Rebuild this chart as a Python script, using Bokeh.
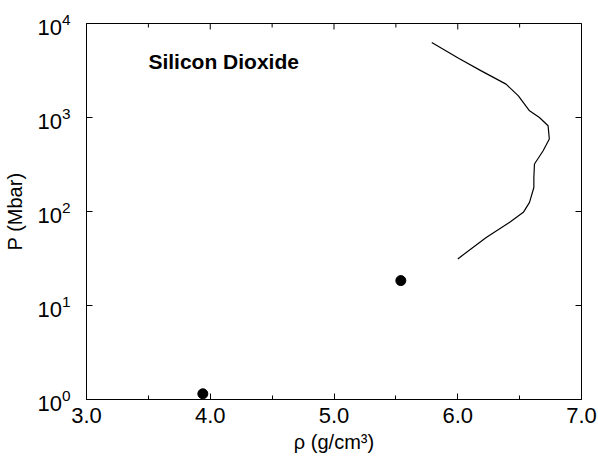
import math
from bokeh.plotting import figure
from bokeh.models import Range1d, FixedTicker, Label, NumeralTickFormatter
from bokeh.embed import file_html
from bokeh.resources import INLINE

# data
curve_rho = [5.79, 6.01, 6.19, 6.39, 6.49, 6.58, 6.66, 6.73, 6.74, 6.69, 6.62, 6.615, 6.615, 6.58, 6.53, 6.42, 6.23, 6.00]
curve_P = [6270, 4240, 3135, 2265, 1700, 1178, 1000, 816, 590, 443, 320, 230, 180, 125, 98, 77, 53, 31.3]
dot_rho = [3.94, 5.54]
dot_P = [1.15, 18.4]
x_ticks = [3.0, 4.0, 5.0, 6.0, 7.0]
x_minor = [3.5, 4.5, 5.5, 6.5]
y_ticks = [1, 10, 100, 1000, 10000]

FONT = "Liberation Sans"

p = figure(width=598, height=458, y_axis_type="log", output_backend="svg",
           toolbar_location=None, x_range=Range1d(3.0, 7.0), y_range=Range1d(1, 10000),
           min_border_left=86, min_border_right=17, min_border_top=23, min_border_bottom=59)
p.grid.visible = False
p.outline_line_color = "black"
p.outline_line_width = 1
p.background_fill_color = "white"
p.border_fill_color = "white"

p.line(curve_rho, curve_P, line_color="black", line_width=1.2)
p.scatter(dot_rho, dot_P, size=10, color="black")

# inward ticks on the top and right edges (half of each dash is clipped away)
p.scatter(x_ticks, [y_ticks[-1]] * len(x_ticks), marker="dash", angle=math.pi / 2,
          size=12, line_color="black", line_width=1)
p.scatter(x_minor, [y_ticks[-1]] * len(x_minor), marker="dash", angle=math.pi / 2,
          size=8, line_color="black", line_width=1)
p.scatter([x_ticks[-1]] * len(y_ticks), y_ticks, marker="dash",
          size=12, line_color="black", line_width=1)


def style(ax):
    ax.axis_line_color = "black"
    ax.major_tick_in = 6
    ax.major_tick_out = 0
    ax.minor_tick_in = 4
    ax.minor_tick_out = 0
    ax.major_label_text_font = FONT
    ax.major_label_text_font_size = "22px"
    ax.major_label_text_color = "black"
    ax.axis_label_text_font = FONT
    ax.axis_label_text_font_size = "20px"
    ax.axis_label_text_font_style = "normal"
    ax.axis_label_text_color = "black"


xa = p.xaxis[0]
xa.ticker = FixedTicker(ticks=x_ticks, minor_ticks=x_minor)
xa.formatter = NumeralTickFormatter(format="0.0")
xa.axis_label = "ρ (g/cm³)"
style(xa)
xa.major_label_standoff = 8
xa.axis_label_standoff = 5

ya = p.yaxis[0]
ya.ticker = FixedTicker(ticks=y_ticks, minor_ticks=[])
ya.axis_label = "P (Mbar)"
style(ya)
ya.major_label_standoff = 16
ya.axis_label_standoff = 8

p.add_layout(Label(x=3.5, y=3900, text="Silicon Dioxide", text_font=FONT,
                   text_font_size="21px", text_font_style="bold",
                   text_baseline="middle", text_align="left", text_color="black"))

open("out.html", "w").write(file_html(p, INLINE))
